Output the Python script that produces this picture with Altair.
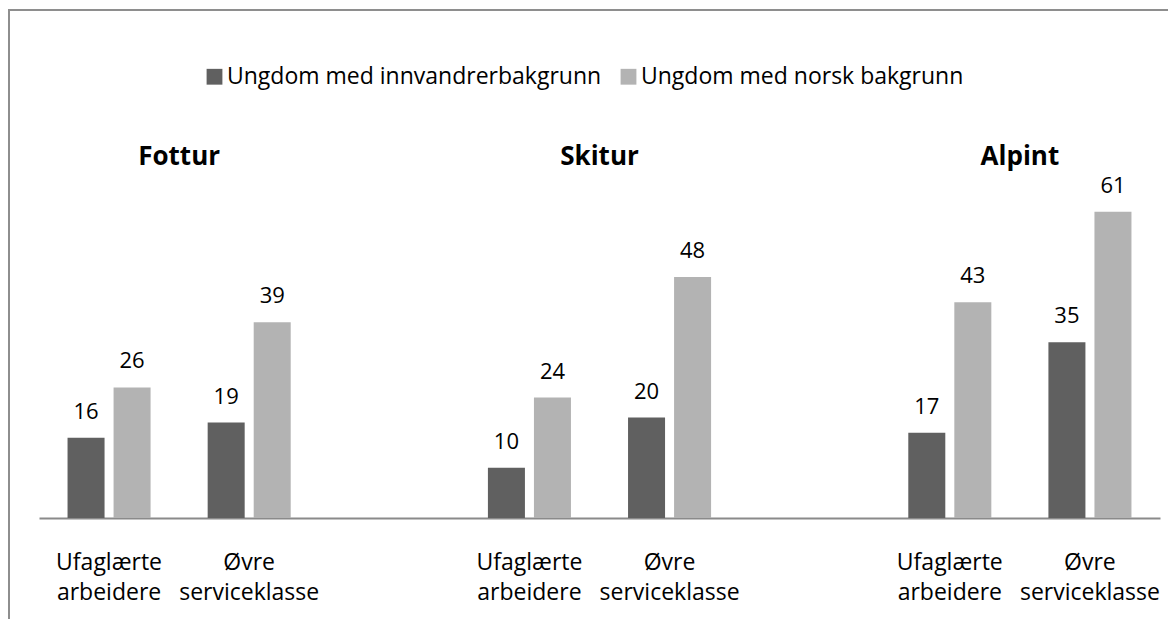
import altair as alt
import pandas as pd

activities = ["Fottur", "Skitur", "Alpint"]
act_keys = ["F", "S", "A"]
classes = ["Ufaglærte|arbeidere", "Øvre|serviceklasse"]
series = ["Ungdom med innvandrerbakgrunn", "Ungdom med norsk bakgrunn"]
innvandrer = [16, 19, 10, 20, 17, 35]
norsk = [26, 39, 24, 48, 43, 61]

slots = ["F|" + classes[0], "F|" + classes[1], "G1",
         "S|" + classes[0], "S|" + classes[1], "G2",
         "A|" + classes[0], "A|" + classes[1]]

rows = []
i = 0
for a, k in zip(activities, act_keys):
    for c in classes:
        rows.append({"slot": k + "|" + c, "group": series[0], "value": innvandrer[i]})
        rows.append({"slot": k + "|" + c, "group": series[1], "value": norsk[i]})
        i += 1
df = pd.DataFrame(rows)

titles = pd.DataFrame({"slot": [k + "|" + classes[1] for k in act_keys], "title": activities})

FONT = "Open Sans"
W, H = 1121, 418
YMAX = H / 5.02

x_enc = alt.X("slot:N", sort=slots,
              scale=alt.Scale(domain=slots, paddingInner=0, paddingOuter=0),
              axis=alt.Axis(title=None, ticks=False, domain=True, domainColor="#8a8a8a",
                            domainWidth=2, labelAngle=0, labelFont=FONT, labelFontSize=23,
                            labelColor="#000000", labelPadding=33, labelLineHeight=30,
                            labelBaseline="top",
                            labelExpr="slice(split(datum.value, '|'), 1)"))
y_enc = alt.Y("value:Q", scale=alt.Scale(domain=[0, YMAX], nice=False, zero=True), axis=None)
xo_enc = alt.XOffset("group:N", sort=series,
                     scale=alt.Scale(paddingInner=0.196, paddingOuter=0.62))

bars = alt.Chart(df).mark_bar().encode(
    x=x_enc, y=y_enc, xOffset=xo_enc,
    color=alt.Color("group:N", sort=series,
                    scale=alt.Scale(domain=series, range=["#606060", "#b3b3b3"]),
                    legend=alt.Legend(title=None, orient="none", direction="horizontal",
                                      legendX=164, legendY=-35, symbolType="square",
                                      symbolSize=250, symbolStrokeWidth=0,
                                      labelFont=FONT, labelFontSize=23, labelColor="#000000",
                                      labelLimit=0, labelOffset=1, columnPadding=15,
                                      padding=0)),
)

labels = alt.Chart(df).mark_text(font=FONT, fontSize=22, baseline="alphabetic",
                                 dy=-19, color="#000000").encode(
    x=x_enc, y=y_enc, xOffset=xo_enc, text="value:Q")

title_marks = alt.Chart(titles).mark_text(font=FONT, fontSize=26, fontWeight="bold",
                                          baseline="alphabetic", color="#000000").encode(
    x=alt.X("slot:N", sort=slots, bandPosition=0), y=alt.value(65), text="title:N")

frame = alt.Chart(alt.Data(values=[{"f": 1}])).mark_rect(
    fill=None, stroke="#8e8e8e", strokeWidth=2).encode(
    x=alt.value(-30), x2=alt.value(1400), y=alt.value(-90), y2=alt.value(900))

chart = alt.layer(frame, bars, labels, title_marks).properties(
    width=W, height=H,
    autosize=alt.AutoSizeParams(type="none"),
    padding={"left": 31, "top": 92, "right": 8, "bottom": 101},
).configure_view(stroke=None)

chart.save("out.html", embed_options={"renderer": "svg", "actions": False})
